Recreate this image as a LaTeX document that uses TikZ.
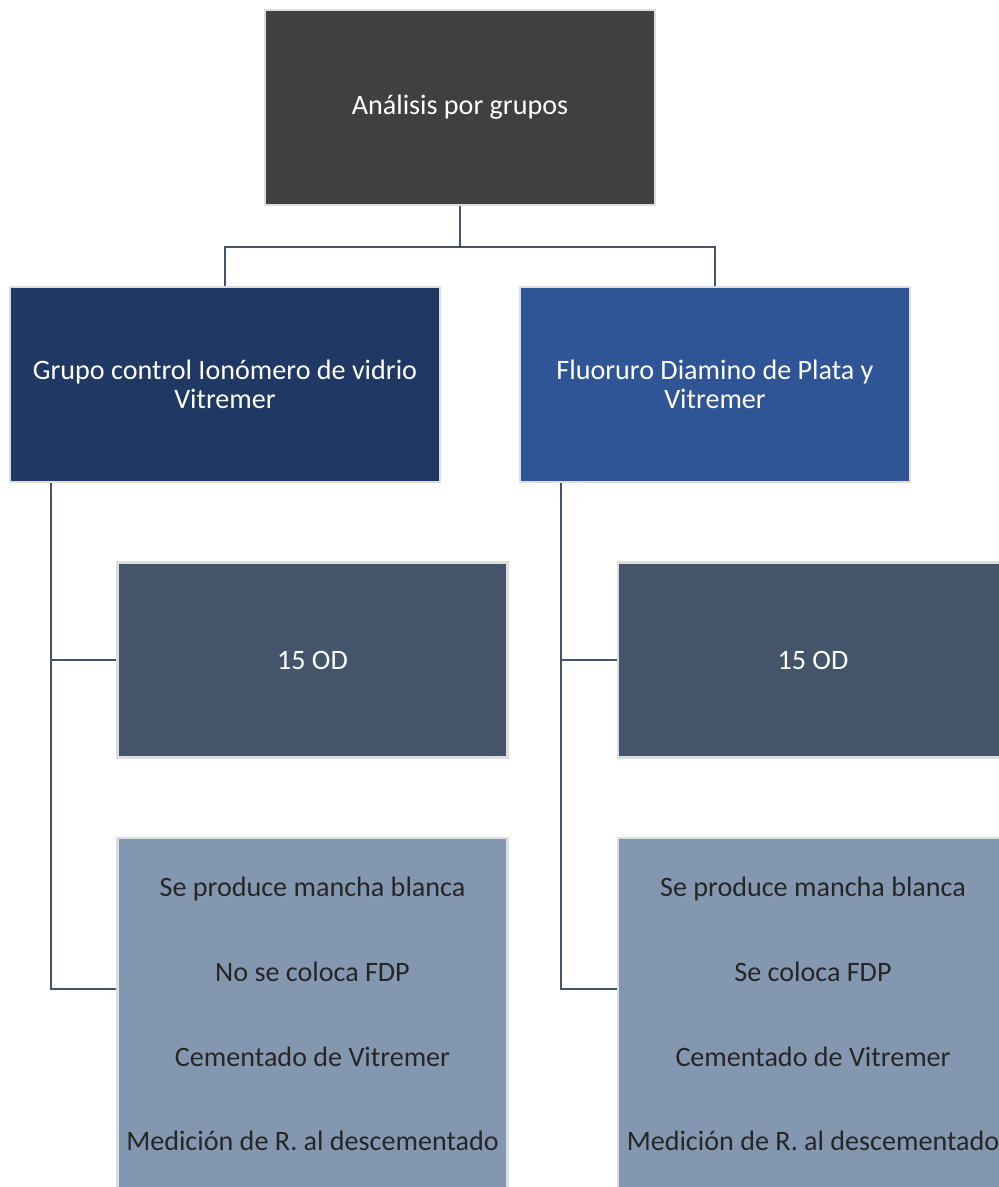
\documentclass[tikz,border=0pt]{standalone}
\usepackage{fontspec}
\setmainfont{Carlito}
\definecolor{topgray}{HTML}{404040}
\definecolor{navy}{HTML}{203864}
\definecolor{midblue}{HTML}{2F5597}
\definecolor{slate}{HTML}{44546A}
\definecolor{paleblue}{HTML}{8497B0}
\definecolor{rim}{HTML}{DDDDDD}
\tikzset{
  box/.style = {rectangle, draw=rim, line width=1.2pt, fill=#1,
                text=white, align=center, inner sep=0pt,
                font=\fontsize{16}{16.5}\selectfont},
  box/.default = slate,
  list/.style = {box=paleblue, text=black!85,
                 font=\fontsize{16}{48.2}\selectfont},
  conn/.style = {draw=slate, line width=1.5pt}
}
\begin{document}
\begin{tikzpicture}[x=0.02cm, y=-0.02cm]
	\def \bh{3.9cm}
	\def \bw{7.8cm}
	\def \stub{0.84cm}

	\clip (0,0) rectangle (999,1187);

	% Top
	\node[box=topgray, minimum width=\bw, minimum height=\bh] (top) at (460,107.5) {Análisis por grupos};

	% Groups
	\node[box=navy, minimum width=8.6cm, minimum height=\bh] (gl) at (225,384.5) {Grupo control Ionómero de vidrio\\Vitremer};
	\node[box=midblue, minimum width=\bw, minimum height=\bh] (gr) at (715,384.5) {Fluoruro Diamino de Plata y\\Vitremer};

	% 15 OD
	\node[box, minimum width=\bw, minimum height=\bh] (odl) at (312.5,660) {15 OD};
	\node[box, minimum width=\bw, minimum height=\bh] (odr) at (813,660) {15 OD};

	% Steps
	\node[list, minimum width=\bw, minimum height=7.04cm] (stl) at (312.5,1014) {Se produce mancha blanca\\No se coloca FDP\\Cementado de Vitremer\\Medición de R. al descementado};
	\node[list, minimum width=\bw, minimum height=7.04cm] (str) at (813,1014) {Se produce mancha blanca\\Se coloca FDP\\Cementado de Vitremer\\Medición de R. al descementado};

	% Connectors
	\draw[conn] (top.south) -- ++(0,41) -| (gl.north);
	\draw[conn] (top.south) -- ++(0,41) -| (gr.north);
	\draw[conn] ([xshift=\stub]gl.south west) |- (odl.west);
	\draw[conn] ([xshift=\stub]gl.south west) |- ([yshift=-3.04cm]stl.north west);
	\draw[conn] ([xshift=\stub]gr.south west) |- (odr.west);
	\draw[conn] ([xshift=\stub]gr.south west) |- ([yshift=-3.04cm]str.north west);

\end{tikzpicture}
\end{document}
